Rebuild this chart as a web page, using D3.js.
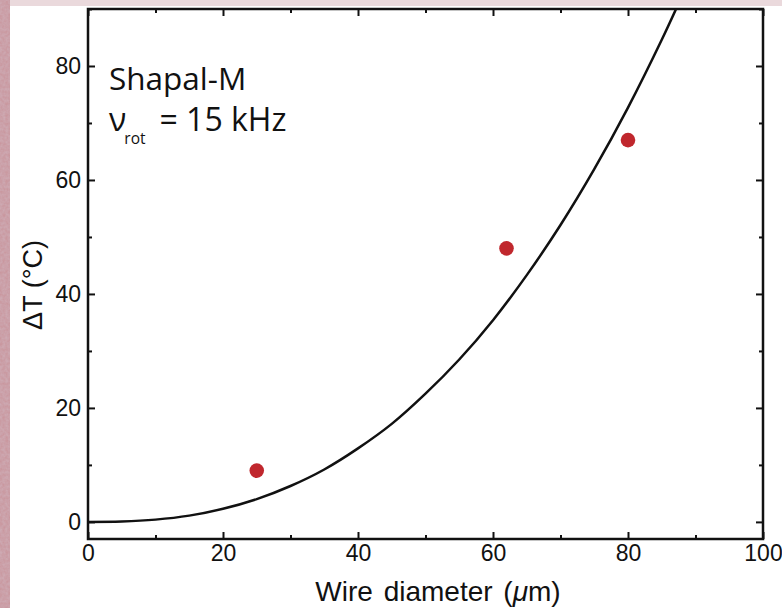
<!DOCTYPE html>
<html><head><meta charset="utf-8">
<script src="https://cdn.jsdelivr.net/npm/d3@7"></script>
<style>html,body{margin:0;padding:0;background:#fff;}svg{display:block;}</style>
</head><body>
<svg id="chart" width="782" height="608"></svg>
<script>
// Measured points (wire diameter µm, ΔT °C)
const pointX = [25, 62, 80];
const pointY = [9, 48, 67];
// Fit curve
const curveX = [0, 5, 10, 15, 20, 25, 30, 35, 40, 45, 50, 55, 60, 65, 70, 75, 80, 85, 88];
const curveY = [0, 0.07, 0.4, 1.1, 2.3, 4.0, 6.3, 9.2, 12.9, 17.2, 22.5, 28.5, 35.4, 43.3, 52.1, 61.9, 72.7, 84.6, 92.3];
const xMajor = [0, 20, 40, 60, 80, 100];
const xMinor = [10, 30, 50, 70, 90];
const yMajor = [0, 20, 40, 60, 80];
const yMinor = [10, 30, 50, 70, 90];

const svg = d3.select("#chart");
// background texture strips
const defs = svg.append("defs");
const f = defs.append("filter").attr("id","tex").attr("x",0).attr("y",0).attr("width",1).attr("height",1);
f.append("feTurbulence").attr("type","fractalNoise").attr("baseFrequency",0.35).attr("numOctaves",2).attr("seed",3).attr("result","n");
f.append("feColorMatrix").attr("in","n").attr("type","matrix")
  .attr("values","0 0 0 0 0.62  0 0 0 0 0.42  0 0 0 0 0.47  0 0 0 1.2 -0.2").attr("result","c");
f.append("feMerge").selectAll("feMergeNode").data(["SourceGraphic","c"]).join("feMergeNode").attr("in",d=>d);
svg.append("rect").attr("x",0).attr("y",0).attr("width",782).attr("height",6).attr("fill","#ead9dc");
svg.append("rect").attr("x",0).attr("y",0).attr("width",10).attr("height",608).attr("fill","#c9979f").attr("filter","url(#tex)");

const L = 88, R = 763, T = 9, B = 539;
const x = d3.scaleLinear().domain([0, 100]).range([L, R]);
const y = d3.scaleLinear().domain([-3, 90]).range([B, T]);

defs.append("clipPath").attr("id","clip").append("rect")
  .attr("x",L).attr("y",T).attr("width",R-L).attr("height",B-T);

const tickFont = "'Liberation Sans', Arial, sans-serif";

function styleAxis(g){
  g.select(".domain").remove();
  g.selectAll(".tick line").attr("stroke","#111").attr("stroke-width",2);
  g.selectAll("text").attr("fill","#111").style("font-family",tickFont).style("font-size","23px");
}
// Bottom axis
svg.append("g").attr("transform",`translate(0,${B})`)
  .call(d3.axisBottom(x).tickValues(xMajor).tickSize(-7).tickPadding(6).tickFormat(d3.format("d"))).call(styleAxis);
svg.append("g").attr("transform",`translate(0,${B})`)
  .call(d3.axisBottom(x).tickValues(xMinor).tickSize(-4).tickFormat("")).call(styleAxis);
// Top axis
svg.append("g").attr("transform",`translate(0,${T})`)
  .call(d3.axisTop(x).tickValues(xMajor).tickSize(-7).tickFormat("")).call(styleAxis);
svg.append("g").attr("transform",`translate(0,${T})`)
  .call(d3.axisTop(x).tickValues(xMinor).tickSize(-4).tickFormat("")).call(styleAxis);
// Left axis
svg.append("g").attr("transform",`translate(${L},0)`)
  .call(d3.axisLeft(y).tickValues(yMajor).tickSize(-7).tickPadding(7).tickFormat(d3.format("d"))).call(styleAxis);
svg.append("g").attr("transform",`translate(${L},0)`)
  .call(d3.axisLeft(y).tickValues(yMinor).tickSize(-4).tickFormat("")).call(styleAxis);
// Right axis
svg.append("g").attr("transform",`translate(${R},0)`)
  .call(d3.axisRight(y).tickValues(yMajor).tickSize(-7).tickFormat("")).call(styleAxis);
svg.append("g").attr("transform",`translate(${R},0)`)
  .call(d3.axisRight(y).tickValues(yMinor).tickSize(-4).tickFormat("")).call(styleAxis);

// Frame
svg.append("rect").attr("x",L).attr("y",T).attr("width",R-L).attr("height",B-T)
  .attr("fill","none").attr("stroke","#111").attr("stroke-width",2.5);

// Curve
const line = d3.line().x(d=>x(d[0])).y(d=>y(d[1])).curve(d3.curveCatmullRom);
svg.append("path").datum(d3.zip(curveX, curveY))
  .attr("clip-path","url(#clip)")
  .attr("d", line).attr("fill","none").attr("stroke","#111").attr("stroke-width",2.5);

// Points
svg.append("g").selectAll("circle").data(d3.zip(pointX, pointY)).join("circle")
  .attr("cx",d=>x(d[0])).attr("cy",d=>y(d[1])).attr("r",7.3).attr("fill","#c0272d");

// Annotation
const annFont = "'Open Sans', 'Noto Sans', sans-serif";
svg.append("text").attr("x",109).attr("y",90).style("font-family",annFont).style("font-size","31.5px")
  .attr("fill","#111").text("Shapal-M");
const t2 = svg.append("text").attr("x",109).attr("y",131).style("font-family",annFont).style("font-size","32px").attr("fill","#111");
t2.append("tspan").text("ν");
t2.append("tspan").attr("dy",13).attr("dx",-2).style("font-size","15.5px").text("rot");
t2.append("tspan").attr("dy",-13).attr("dx",14).text("= 15 kHz");

// Axis titles
svg.append("text").attr("x",438).attr("y",601).attr("text-anchor","middle")
  .style("font-family",tickFont).style("font-size","28px").style("word-spacing","3px").attr("fill","#111")
  .html("Wire diameter (<tspan font-style='italic'>μ</tspan>m)");
svg.append("text").attr("transform","translate(42,285) rotate(-90)").attr("text-anchor","middle")
  .style("font-family",tickFont).style("font-size","27px").attr("fill","#111").text("ΔT (°C)");
</script>
</body></html>
